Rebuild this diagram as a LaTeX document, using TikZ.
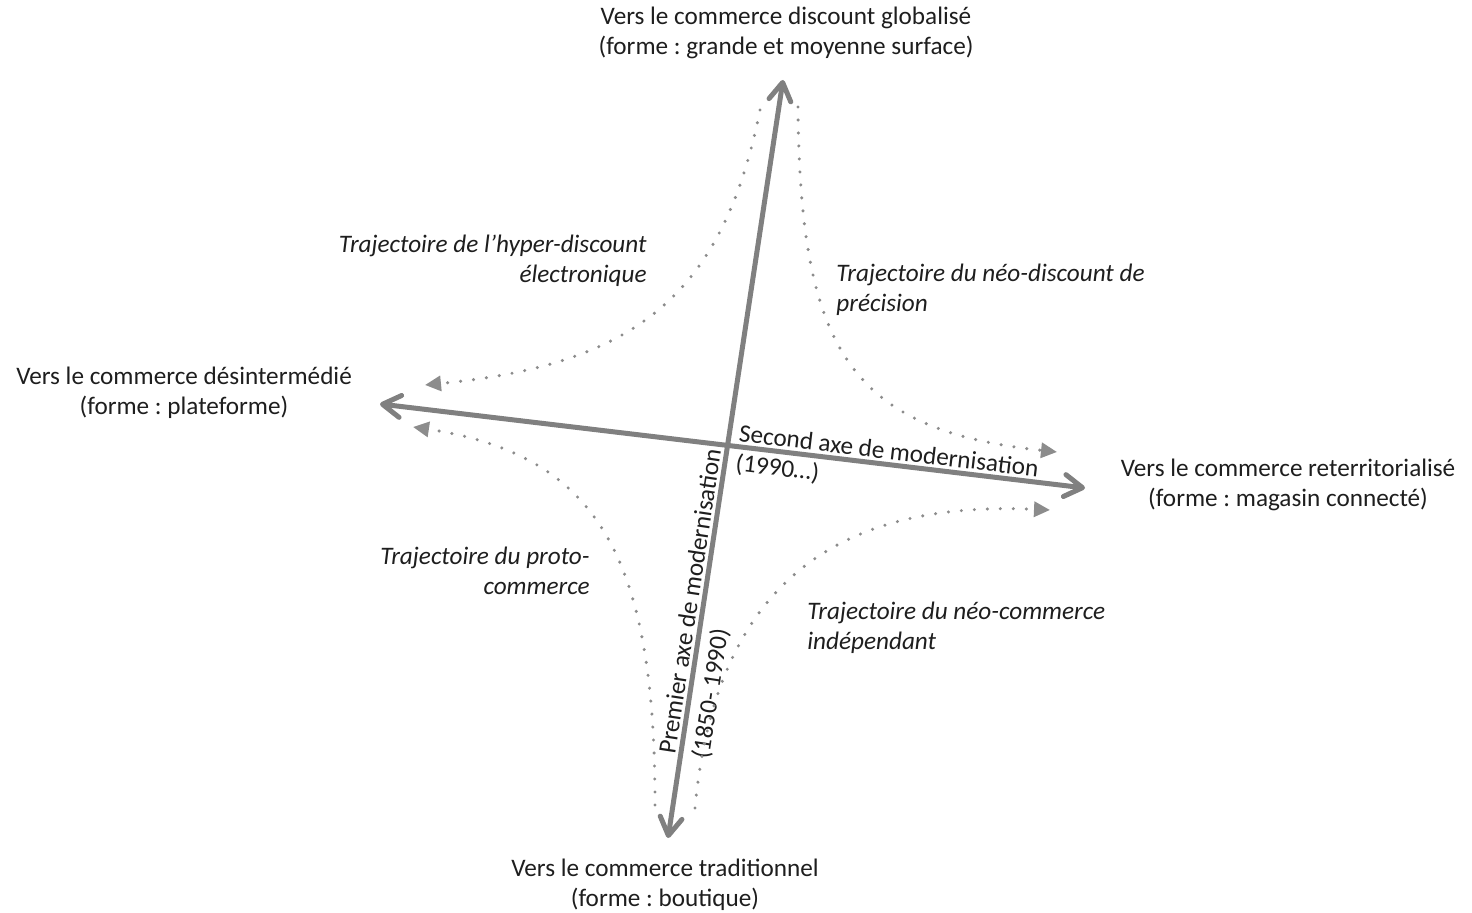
\documentclass[tikz,border=0pt]{standalone}
\usepackage{fontspec}
\setmainfont{Carlito}
\usetikzlibrary{arrows.meta}
\definecolor{axisgray}{RGB}{128,128,128}
\definecolor{trajgray}{RGB}{140,140,140}
\definecolor{textgray}{RGB}{30,30,30}
\frenchspacing

\begin{document}
\begin{tikzpicture}[x=0.5pt,y=-0.5pt,
  pole/.style={align=center,font=\fontsize{12.6}{15}\selectfont,text=textgray},
  traj/.style={font=\fontsize{12.6}{15}\selectfont\itshape,text=textgray,inner sep=0pt},
  axislabel/.style={align=left,font=\fontsize{12.6}{15}\selectfont,text=textgray,inner sep=0pt},
  axis/.style={draw=axisgray,line width=2.5pt,line cap=round,
    {Straight Barb[length=9pt,width=11pt,round]}-{Straight Barb[length=9pt,width=11pt,round]}},
  trajline/.style={draw=trajgray,line width=1.7pt,line cap=round,dash pattern=on 0pt off 6.5pt,
    -{Triangle[length=8pt,width=7.5pt]}}]
\useasboundingbox (0,0) rectangle (1472,913);

% poles
\node[pole] (glob) at (786,33) {Vers le commerce discount globalisé\\(forme : grande et moyenne surface)};
\node[pole] (desint) at (184,393) {Vers le commerce désintermédié\\(forme : plateforme)};
\node[pole] (reterr) at (1288,485) {Vers le commerce reterritorialisé\\(forme : magasin connecté)};
\node[pole] (trad) at (665,885) {Vers le commerce traditionnel\\(forme : boutique)};

% axes
\coordinate (glob tip) at (783,80);
\coordinate (trad tip) at (668,838);
\coordinate (desint tip) at (380,404);
\coordinate (reterr tip) at (1085,488);
\draw[axis] (trad tip) -- (glob tip);
\draw[axis] (desint tip) -- (reterr tip);

\node[axislabel,rotate=-6.8] (second) at (887,467) {Second axe de modernisation\\(1990…)};
\node[axislabel,rotate=81.4] (premier) at (708,604) {Premier axe de modernisation\\[2pt](1850- 1990)};

% trajectoires
\coordinate (hyper a) at (760,110);
\coordinate (hyper b) at (425,385);
\coordinate (neodisc a) at (798,107);
\coordinate (neodisc b) at (1057,452);
\coordinate (proto a) at (655,805);
\coordinate (proto b) at (413,427);
\coordinate (neocom a) at (695,808);
\coordinate (neocom b) at (1050,510);
\draw[trajline] (hyper a) .. controls (722,300) and (630,365) .. (hyper b);
\draw[trajline] (neodisc a) .. controls (800,350) and (850,430) .. (neodisc b);
\draw[trajline] (proto a) .. controls (655,560) and (600,455) .. (proto b);
\draw[trajline] (neocom a) .. controls (715,590) and (830,500) .. (neocom b);

\node[traj,align=right,anchor=base east] (hyper) at (647,283) {Trajectoire de l’hyper-discount\\électronique};
\node[traj,align=left,anchor=base west] (neodisc) at (836,312) {Trajectoire du néo-discount de\\précision};
\node[traj,align=right,anchor=base east] (proto) at (590,595) {Trajectoire du proto-\\commerce};
\node[traj,align=left,anchor=base west] (neocom) at (807,650) {Trajectoire du néo-commerce\\indépendant};
\end{tikzpicture}
\end{document}
